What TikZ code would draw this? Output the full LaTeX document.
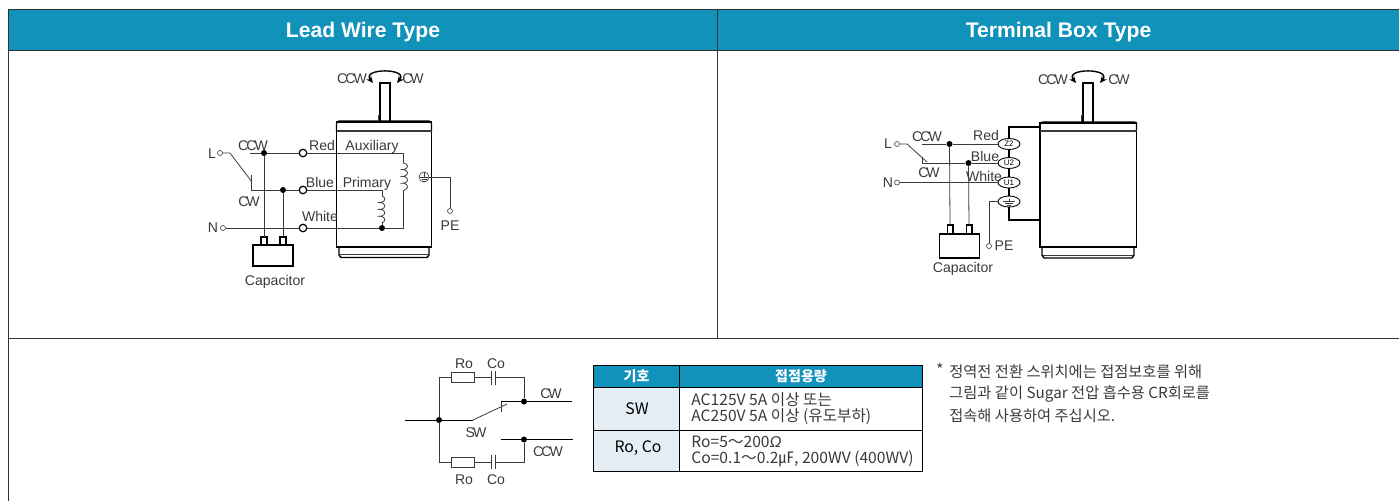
\documentclass[tikz,border=0pt]{standalone}
\usepackage{fontspec}
\setmainfont{Liberation Sans}
\newfontfamily\kor{Noto Sans CJK KR}
\usetikzlibrary{arrows.meta,shapes.geometric,decorations.pathmorphing}
\definecolor{headteal}{HTML}{1192BA}
\definecolor{rowblue}{HTML}{E4EEF4}
\definecolor{inkgray}{HTML}{3A3A3A}
\tikzset{
  wire/.style={color=inkgray,line width=0.45pt},
  heavy/.style={color=black,line width=0.8pt},
  lbl/.style={inner sep=0pt,text height=5.8pt,text depth=0pt,color=inkgray,font=\fontsize{8}{9}\selectfont},
  cclbl/.style={lbl,font=\fontsize{8}{9}\selectfont\addfontfeature{LetterSpace=-14}},
  headlbl/.style={inner sep=0pt,text height=8.6pt,text depth=0pt,color=white,font=\fontsize{12}{13}\selectfont\bfseries},
  dot/.style={circle,fill=black,inner sep=0pt,minimum size=0.12cm},
  term/.style={circle,draw=black,line width=0.7pt,fill=white,inner sep=0pt,minimum size=0.15cm},
  opn/.style={circle,draw=inkgray,line width=0.35pt,fill=white,inner sep=0pt,minimum size=0.1cm},
  lug/.style={ellipse,draw=black,line width=0.5pt,fill=white,inner sep=0pt,minimum width=0.44cm,minimum height=0.22cm,font=\fontsize{4.5}{5}\selectfont},
  coilwire/.style={wire,decorate,decoration={coil,aspect=0.5,amplitude=1.6pt,segment length=3.9pt}},
  rotary/.style={{Stealth[length=4pt,width=3.5pt]}-{Stealth[length=4pt,width=3.5pt]},line width=0.8pt},
  tbltxt/.style={inner sep=0pt,anchor=west,align=left,color=inkgray,font=\kor\fontsize{8.9}{9.1}\selectfont},
  tblkey/.style={inner sep=0pt,color=black,font=\kor\fontsize{9}{10}\selectfont},
  tblhead/.style={inner sep=0pt,color=white,font=\kor\fontsize{8}{9}\selectfont\bfseries},
  notetxt/.style={inner sep=0pt,anchor=west,color=inkgray,font=\kor\fontsize{8.7}{9}\selectfont},
}
\begin{document}
\begin{tikzpicture}[x=0.02cm,y=-0.02cm]
\useasboundingbox (0,0) rectangle (1399,501);
\pgfmathsetmacro{\yred}{153}
\pgfmathsetmacro{\yblue}{190}
\pgfmathsetmacro{\ywhite}{228}
\pgfmathsetmacro{\xwire}{403}
\pgfmathsetmacro{\xprim}{382}
\pgfmathsetmacro{\ztwo}{144}
\pgfmathsetmacro{\utwo}{163}
\pgfmathsetmacro{\uone}{182.5}
\pgfmathsetmacro{\uearth}{201.5}
\pgfmathsetmacro{\ytop}{377.5}
\pgfmathsetmacro{\ybot}{462}
  \fill[headteal] (8,10) rectangle (1399,50);
  \draw[color=black!80,line width=0.5pt] (8,9.5) -- (1399,9.5);
  \draw[color=black!80,line width=0.5pt] (8,9.5) -- (8,501);
  \draw[color=black!80,line width=0.5pt] (8,50) -- (1399,50);
  \draw[color=black!80,line width=0.5pt] (717.5,9.5) -- (717.5,338.5);
  \draw[color=black!80,line width=0.5pt] (8,338.5) -- (1399,338.5);
  \node[headlbl] (headlead) at (363,30) {Lead Wire Type};
  \node[headlbl] (headbox) at (1058.5,30) {Terminal Box Type};

  \draw[heavy] (336.5,131) -- (336.5,123) -- (339,121) -- (429,121) -- (431.5,123) -- (431.5,131);
  \draw[heavy] (336.5,122) rectangle (431.5,247);
  \draw[line width=0.6pt,color=inkgray] (336.5,131) -- (431.5,131);
  \draw[heavy] (339,247) -- (339,255) -- (341,257.5) -- (427,257.5) -- (429,255) -- (429,247);
  \draw[line width=0.3pt,color=inkgray] (340,254.5) -- (428,254.5);
  \draw[heavy] (380,121) -- (380,83) -- (390,83) -- (390,121);
  \draw[wire] (380,115) -- (378.5,115) -- (378.5,121);
  \node[cclbl] (ccwa) at (352,78.5) {CCW};
  \node[cclbl] (cwa) at (413,78.5) {CW};
  \draw[rotary] (373,83) .. controls (361,68) and (409,68) .. (397,83);

  \node[lbl] (la) at (212,153) {L};
  \node[opn] (lopena) at (220,153) {};
  \node[lbl] (na) at (213,227.5) {N};
  \node[opn] (nopena) at (223,228) {};
  \node[term] (redt) at (303,\yred) {};
  \node[term] (bluet) at (303,\yblue) {};
  \node[term] (whitet) at (303,\ywhite) {};
  \node[dot] (ccwdot) at (264,\yred) {};
  \node[dot] (cwdot) at (283,\yblue) {};
  \node[dot] (primdot) at (\xprim,\ywhite) {};
  \coordinate (ccwend) at (250,\yred);
  \coordinate (cwend) at (251,\yblue);
  \coordinate (cwtop) at (251,175);
  \coordinate (swknee) at (230,153);
  \coordinate (swtip) at (252,182);
  \coordinate (auxtop) at (\xwire,\yred);
  \coordinate (auxin) at (\xwire,163);
  \coordinate (auxout) at (\xwire,191);
  \coordinate (whiteend) at (\xwire,\ywhite);
  \coordinate (primtop) at (\xprim,\yblue);
  \coordinate (primin) at (\xprim,196);
  \coordinate (primout) at (\xprim,223);
  \draw[wire] (lopena) -- (swknee) -- (swtip);
  \draw[wire] (cwtop) -- (cwend) -- (cwdot) -- (bluet) -- (primtop) -- (primin);
  \draw[wire] (ccwend) -- (ccwdot) -- (redt) -- (auxtop) -- (auxin);
  \draw[wire] (nopena) -- (whitet) -- (primdot) -- (whiteend) -- (auxout);
  \draw[coilwire,decoration={raise=1pt}] (auxin) -- (auxout);
  \draw[coilwire] (primin) -- (primout);
  \draw[wire] (primout) -- (primdot);
  \node[heavy,draw,fill=white,inner sep=0pt,minimum width=0.8cm,minimum height=0.42cm] (capa) at (273,255.5) {};
  \draw[heavy,fill=white] (261,237) rectangle (267,245);
  \draw[heavy,fill=white] (280,237) rectangle (286,245);
  \coordinate (capaone) at (264,237);
  \coordinate (capatwo) at (283,237);
  \draw[wire] (ccwdot) -- (capaone);
  \draw[wire] (cwdot) -- (capatwo);
  \node[lbl] (capalbl) at (275,280) {Capacitor};
  \node[cclbl] (ccwlbla) at (253,145) {CCW};
  \node[cclbl] (cwlbla) at (249,201) {CW};
  \node[lbl] (redlbla) at (322,145) {Red};
  \node[lbl] (bluelbla) at (320,182) {Blue};
  \node[lbl] (whitelbla) at (320,216.5) {White};
  \node[lbl] (auxlbl) at (372,145) {Auxiliary};
  \node[lbl] (primlbl) at (367,182) {Primary};
  \node[circle,draw=inkgray,line width=0.35pt,inner sep=0pt,minimum size=0.2cm] (eartha) at (424,177) {};
  \draw[wire] (424,172) -- (424,177) (420,177) -- (428,177) (421.5,179) -- (426.5,179) (423,181) -- (425,181);
  \node[opn] (peopena) at (450,211) {};
  \coordinate (pekneea) at (450,177);
  \draw[wire] (eartha) -- (pekneea) -- (peopena);
  \node[lbl] (pelbla) at (450,225) {PE};

  \draw[heavy] (1040,131) -- (1040,123) -- (1043,122) -- (1134,122) -- (1136.5,123) -- (1136.5,131);
  \draw[heavy] (1040,123) rectangle (1136.5,247);
  \draw[line width=0.6pt,color=inkgray] (1040,131) -- (1136.5,131);
  \draw[heavy] (1042,247) -- (1042,255) -- (1044,258) -- (1132,258) -- (1134,255) -- (1134,247);
  \draw[line width=0.3pt,color=inkgray] (1043,255) -- (1133,255);
  \draw[heavy] (1083,122) -- (1083,83) -- (1093,83) -- (1093,122);
  \draw[wire] (1083,115) -- (1081.5,115) -- (1081.5,122);
  \node[cclbl] (ccwb) at (1053,79) {CCW};
  \node[cclbl] (cwb) at (1119,79) {CW};
  \draw[rotary] (1076,83) .. controls (1064,68) and (1112,68) .. (1100,83);

  \coordinate (brtop) at (1040,127);
  \coordinate (brtopl) at (1009,127);
  \coordinate (brbot) at (1040,220);
  \coordinate (brbotl) at (1009,220);
  \draw[heavy] (brtop) -- (brtopl) -- (brbotl) -- (brbot);
  \node[lug] (ztwolug) at (1009,\ztwo) {Z2};
  \node[lug] (utwolug) at (1009,\utwo) {U2};
  \node[lug] (uonelug) at (1009,\uone) {U1};
  \node[lug] (earthlug) at (1009,\uearth) {};
  \draw[wire] (1009,198.5) -- (1009,201) (1003,201) -- (1015,201) (1005,203) -- (1013,203) (1007,205) -- (1011,205);
  \node[lbl] (lb) at (888,143) {L};
  \node[opn] (lopenb) at (897,144) {};
  \node[lbl] (nb) at (888,182) {N};
  \node[opn] (nopenb) at (897,182.5) {};
  \node[dot] (ccwdotb) at (949.5,\ztwo) {};
  \node[dot] (cwdotb) at (968.5,\utwo) {};
  \coordinate (ccwendb) at (922,\ztwo);
  \coordinate (cwendb) at (922,\utwo);
  \coordinate (cwtopb) at (922,157);
  \coordinate (swkneeb) at (907,144);
  \coordinate (swtipb) at (927,162);
  \draw[wire] (lopenb) -- (swkneeb) -- (swtipb);
  \draw[wire] (ccwendb) -- (ccwdotb) -- (ztwolug);
  \draw[wire] (cwtopb) -- (cwendb) -- (cwdotb) -- (utwolug);
  \draw[wire] (nopenb) -- (uonelug);
  \node[heavy,draw,fill=white,inner sep=0pt,minimum width=0.8cm,minimum height=0.48cm] (capb) at (959.5,246) {};
  \draw[heavy,fill=white] (947.5,225) rectangle (953,234);
  \draw[heavy,fill=white] (966.5,225) rectangle (972,234);
  \coordinate (capbone) at (950,225);
  \coordinate (capbtwo) at (969,225);
  \draw[wire] (ccwdotb) -- (capbone);
  \draw[wire] (cwdotb) -- (capbtwo);
  \node[lbl] (capblbl) at (963,267) {Capacitor};
  \node[opn] (peopenb) at (989,246) {};
  \coordinate (pekneeb) at (989,\uearth);
  \draw[wire] (earthlug) -- (pekneeb) -- (peopenb);
  \node[lbl] (pelblb) at (1004,245) {PE};
  \node[cclbl] (ccwlblb) at (927,136) {CCW};
  \node[cclbl] (cwlblb) at (929,172.5) {CW};
  \node[lbl] (redlblb) at (986,135) {Red};
  \node[lbl] (bluelblb) at (985,156) {Blue};
  \node[lbl] (whitelblb) at (984,176) {White};

  \node[dot] (maindot) at (439,420) {};
  \node[dot] (cwdotc) at (524,401.5) {};
  \node[dot] (ccwdotc) at (524,439.5) {};
  \coordinate (linein) at (405,420);
  \coordinate (swstart) at (473,420);
  \coordinate (swend) at (507,404);
  \coordinate (cwcontact) at (501,401.5);
  \coordinate (cwstub) at (501,412);
  \coordinate (cwout) at (572,401.5);
  \coordinate (ccwcontact) at (501,439.5);
  \coordinate (ccwout) at (573,439.5);
  \draw[line width=0.5pt] (linein) -- (maindot) -- (swstart);
  \draw[wire] (swstart) -- (swend);
  \draw[wire] (cwcontact) -- (cwstub);
  \draw[line width=0.5pt] (cwcontact) -- (cwdotc) -- (cwout);
  \draw[line width=0.5pt] (ccwcontact) -- (ccwdotc) -- (ccwout);
  \coordinate (topl) at (439,\ytop);
  \coordinate (topr) at (524,\ytop);
  \coordinate (botl) at (439,\ybot);
  \coordinate (botr) at (524,\ybot);
  \draw[wire] (maindot) -- (topl) -- (topr) -- (cwdotc);
  \draw[wire] (maindot) -- (botl) -- (botr) -- (ccwdotc);
  \node[wire,draw,fill=white,inner sep=0pt,minimum width=0.46cm,minimum height=0.2cm] (rotop) at (463,\ytop) {};
  \node[wire,draw,fill=white,inner sep=0pt,minimum width=0.46cm,minimum height=0.2cm] (robot) at (463,\ybot) {};
  \fill[white] (491,\ytop-2) rectangle (495,\ytop+2);
  \fill[white] (491,\ybot-2) rectangle (495,\ybot+2);
  \draw[wire] (491,371) -- (491,385) (495,371) -- (495,385);
  \draw[wire] (491,455) -- (491,469) (495,455) -- (495,469);
  \node[lbl] (rolbla) at (464,363) {Ro};
  \node[lbl] (colbla) at (496,363) {Co};
  \node[cclbl] (cwlblc) at (551,393) {CW};
  \node[cclbl] (swlbl) at (476,432) {SW};
  \node[cclbl] (ccwlblc) at (548,451) {CCW};
  \node[lbl] (rolblb) at (464,479.5) {Ro};
  \node[lbl] (colblb) at (496,479.5) {Co};

  \fill[headteal] (593.5,365) rectangle (922.5,387.5);
  \fill[rowblue] (593.5,387.5) rectangle (679.5,471);
  \draw[color=black,line width=0.5pt] (593.5,365) rectangle (922.5,471);
  \draw[color=black,line width=0.5pt] (593.5,387.5) -- (922.5,387.5);
  \draw[color=black,line width=0.5pt] (593.5,430) -- (922.5,430);
  \draw[color=black,line width=0.5pt] (679.5,365) -- (679.5,471);
  \node[tblhead] (symhead) at (636.5,376.5) {기호};
  \node[tblhead] (rathead) at (801,376.5) {접점용량};
  \node[tblkey] (swkey) at (637,409) {SW};
  \node[tblkey] (rokey) at (638,448) {Ro, Co};
  \node[tbltxt] (swtxt) at (691,409) {AC125V 5A 이상 또는\\AC250V 5A 이상 (유도부하)};
  \node[tbltxt] (rotxt) at (691,451) {Ro=5～200{\normalfont\itshape Ω}\\Co=0.1～0.2㎌, 200WV (400WV)};

  \node[notetxt] (notestar) at (936,369.5) {*};
  \node[notetxt] (noteone) at (949,371.5) {정역전 전환 스위치에는 접점보호를 위해};
  \node[notetxt] (notetwo) at (949,394) {그림과 같이 Sugar 전압 흡수용 CR회로를};
  \node[notetxt] (notethree) at (949,415.5) {접속해 사용하여 주십시오.};
\end{tikzpicture}
\end{document}
